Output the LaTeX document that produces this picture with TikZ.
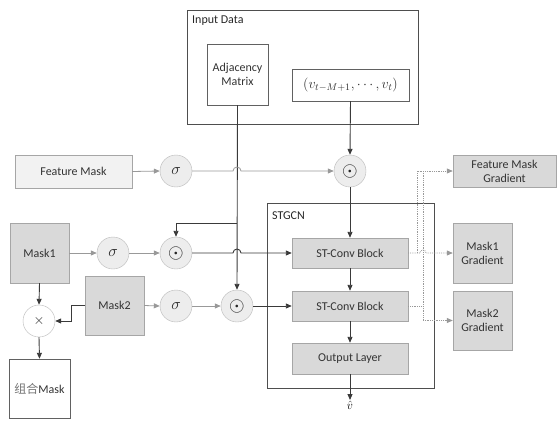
\RequirePackage{fix-cm}
\documentclass[tikz,border=0pt]{standalone}
\usepackage{fontspec}
\setmainfont{Carlito}
\newfontfamily\cjk{Noto Sans CJK SC}
\usetikzlibrary{arrows.meta}
\definecolor{boxgray}{HTML}{D9D9D9}
\definecolor{palegray}{HTML}{F2F2F2}
\definecolor{circgray}{HTML}{EDEDED}
\definecolor{edgegray}{HTML}{A6A6A6}
\definecolor{linegray}{HTML}{999999}
\definecolor{darkline}{HTML}{3A3A3A}
\tikzset{
  box/.style={draw=edgegray, fill=boxgray, inner sep=0pt, align=center,
    text=black!80, font=\fontsize{12}{14}\selectfont},
  whitebox/.style={box, draw=darkline!80, fill=white},
  op/.style={circle, draw=edgegray!80, fill=circgray, minimum size=32pt,
    inner sep=0pt, text=black!85},
  frame/.style={draw=darkline!90, line width=0.9pt},
  dk/.style={draw=darkline, line width=0.9pt, -{Triangle[length=6pt,width=5pt]}},
  gr/.style={draw=linegray, line width=0.8pt, -{Triangle[length=6pt,width=5pt]}},
  dt/.style={draw=linegray, line width=0.8pt, densely dotted},
}
\newcommand{\sig}{\fontsize{16}{16}\selectfont$\sigma$}
\newcommand{\had}{\fontsize{20}{20}\selectfont$\odot$}

\begin{document}
\begin{tikzpicture}[x=1pt, y={(0pt,-1pt)}]
  \useasboundingbox (0,0) rectangle (560,421);

  % input data
  \draw[frame] (187,10) rectangle (418,124);
  \node[anchor=west, inner sep=0pt, text=black!85, font=\fontsize{12}{14}\selectfont] (inlbl) at (192,21) {Input Data};
  \node[whitebox, minimum width=61pt, minimum height=61pt] (adj) at (237.5,74.5) {Adjacency\\Matrix};
  \node[whitebox, minimum width=117pt, minimum height=32pt, font=\fontsize{14}{16}\selectfont] (vec) at (350.5,85) {$(v_{t-M+1},\cdots,v_t)$};

  % masks
  \node[box, fill=palegray, minimum width=117pt, minimum height=33pt] (fm) at (73.5,171.5) {Feature Mask};
  \node[op] (sig1) at (176,171) {\sig};
  \node[op] (odot1) at (350,171) {\had};
  \node[box, minimum width=59pt, minimum height=60pt] (mask1) at (39.5,253) {Mask1};
  \node[op] (sig2) at (113,253) {\sig};
  \node[op] (odot2) at (176,253) {\had};
  \node[box, minimum width=59pt, minimum height=59pt] (mask2) at (114.5,305.5) {Mask2};
  \node[op] (sig3) at (176,306) {\sig};
  \node[op] (odot3) at (237,306) {\had};
  \node[op, fill=white, font=\fontsize{14}{14}\selectfont] (prod) at (39,321) {$\times$};
  \node[whitebox, minimum width=61pt, minimum height=59pt] (combo) at (39.5,388.5) {{\cjk\color{black!55}组合}Mask};

  % stgcn
  \draw[frame] (267,203) rectangle (434,388);
  \node[anchor=west, inner sep=0pt, text=black!85, font=\fontsize{12}{14}\selectfont] (stlbl) at (272,216) {STGCN};
  \node[box, minimum width=116pt, minimum height=30pt] (st1) at (350,253) {ST-Conv Block};
  \node[box, minimum width=116pt, minimum height=30pt] (st2) at (350,306) {ST-Conv Block};
  \node[box, minimum width=116pt, minimum height=31pt] (outl) at (350,358.5) {Output Layer};
  \node[anchor=north, inner sep=1pt, font=\fontsize{12}{12}\selectfont] (vhat) at (350,400) {$\hat{v}$};

  % gradients
  \node[box, minimum width=103pt, minimum height=32pt] (fmg) at (504.5,171) {Feature Mask\\Gradient};
  \node[box, minimum width=59pt, minimum height=60pt] (m1g) at (482.5,253) {Mask1\\Gradient};
  \node[box, minimum width=59pt, minimum height=59pt] (m2g) at (482.5,320.5) {Mask2\\Gradient};

  % data paths
  \coordinate (br) at (237,223);
  \draw[dk] (adj.south) -- (odot3.north);
  \draw[dk] (br) -| (odot2.north);
  \draw[dk] (vec.south) -- (odot1.north);
  \draw[dk] (odot1.south) -- (st1.north);
  \draw[dk] (odot2.east) -- (233,253) arc[start angle=180, end angle=360, radius=4] -- (st1.west);
  \draw[dk] (odot3.east) -- (st2.west);
  \draw[dk] (st1.south) -- (st2.north);
  \draw[dk] (st2.south) -- (outl.north);
  \draw[dk] (outl.south) -- (vhat.north);
  \draw[dk] (mask1.south) -- (prod.north);
  \draw[dk] (mask2.west) -- ++(-13,0) |- (prod.east);
  \draw[dk] (prod.south) -- (combo.north);

  % sigmoid paths
  \draw[gr] (fm.east) -- (sig1.west);
  \draw[gr] (sig1.east) -- (233,171) arc[start angle=180, end angle=360, radius=4] -- (odot1.west);
  \draw[gr] (mask1.east) -- (sig2.west);
  \draw[gr] (sig2.east) -- (odot2.west);
  \draw[gr] (mask2.east) -- (sig3.west);
  \draw[gr] (sig3.east) -- (odot3.west);

  % gradient paths
  \draw[dt] (st2.east) -- (423,306);
  \draw[dt, -{Triangle[length=6pt,width=5pt]}] (417,253) |- (fmg.west);
  \draw[dt, -{Triangle[length=6pt,width=5pt]}] (423,171) |- (m2g.west);
  \draw[dt, -{Triangle[length=6pt,width=5pt]}] (st1.east) -- (420,253) arc[start angle=180, end angle=360, radius=3] -- (m1g.west);
\end{tikzpicture}
\end{document}
